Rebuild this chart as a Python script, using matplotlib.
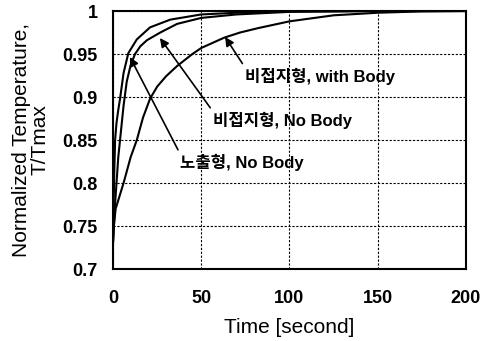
import matplotlib
matplotlib.use("Agg")
import matplotlib.pyplot as plt

# Data
t_exposed = [0, 0.3, 0.7, 1.2, 2, 3, 4, 6, 8.7, 13.5, 21, 32.5, 50, 70, 100, 150, 200]
v_exposed = [0.73, 0.77, 0.81, 0.85, 0.87, 0.885, 0.898, 0.928, 0.951, 0.967, 0.981, 0.990, 0.996, 0.998, 0.9995, 1.0, 1.0]

t_nobody = [0, 0.5, 1, 2, 3, 4, 5, 6, 7.8, 10, 12.5, 15.5, 19.2, 26.8, 36.3, 50, 70, 100, 150, 200]
v_nobody = [0.73, 0.75, 0.77, 0.80, 0.83, 0.85, 0.87, 0.89, 0.918, 0.937, 0.950, 0.959, 0.966, 0.975, 0.985, 0.992, 0.996, 0.999, 1.0, 1.0]

t_body = [0, 0.5, 1.5, 3, 4.5, 6, 8, 10, 13.5, 17, 21, 25, 30, 36.3, 45, 50, 63, 72, 82, 100, 125, 150, 175, 200]
v_body = [0.73, 0.75, 0.77, 0.78, 0.79, 0.80, 0.815, 0.83, 0.85, 0.876, 0.898, 0.912, 0.924, 0.936, 0.95, 0.957, 0.969, 0.975, 0.980, 0.988, 0.995, 0.998, 0.9995, 1.0]

x_ticks = [0, 50, 100, 150, 200]
y_ticks = [0.7, 0.75, 0.8, 0.85, 0.9, 0.95, 1.0]
y_tick_labels = ["0.7", "0.75", "0.8", "0.85", "0.9", "0.95", "1"]

labels = ["노출형, No Body", "비접지형, No Body", "비접지형, with Body"]
arrow_tips = [(9.6, 0.9465), (26.6, 0.9686), (63.5, 0.9698)]
text_pos = [(38, 0.824), (56.7, 0.873), (74.8, 0.9244)]

plt.rcParams['font.family'] = ['Liberation Sans', 'Noto Sans CJK KR', 'DejaVu Sans']

fig = plt.figure(figsize=(4.82, 3.41), dpi=100)
ax = fig.add_axes([0.2344, 0.2111, 0.7324, 0.7566])

for t, v in [(t_exposed, v_exposed), (t_nobody, v_nobody), (t_body, v_body)]:
    ax.plot(t, v, color='black', lw=1.5)

ax.set_xlim(0, 200)
ax.set_ylim(0.7, 1.0)
ax.set_xticks(x_ticks)
ax.set_yticks(y_ticks)
ax.set_yticklabels(y_tick_labels)
ax.grid(True, color='black', linestyle=(0, (2, 1.5)), lw=0.8)
ax.tick_params(axis='x', length=0, pad=15, labelsize=13)
ax.tick_params(axis='y', length=0, pad=11, labelsize=13)
for lab in ax.get_xticklabels() + ax.get_yticklabels():
    lab.set_fontweight('bold')
for s in ax.spines.values():
    s.set_linewidth(1.5)

ax.set_xlabel("Time [second]", fontsize=15, labelpad=8)
ax.set_ylabel("Normalized Temperature,\nT/Tmax", fontsize=15, labelpad=9, linespacing=1.0)

for lab, tip, pos in zip(labels, arrow_tips, text_pos):
    ax.annotate(lab, xy=tip, xytext=pos, fontsize=12, fontweight='bold',
                ha='left', va='center',
                arrowprops=dict(arrowstyle='-|>', color='black', lw=1.2,
                                mutation_scale=13, shrinkA=1, shrinkB=0,
                                relpos=(0, 1.0)))

fig.savefig("out.png", dpi=100)
